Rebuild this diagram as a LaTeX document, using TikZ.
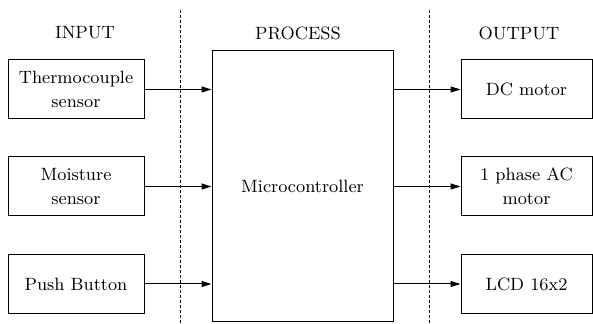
\documentclass[tikz,border=0pt]{standalone}
\usetikzlibrary{arrows.meta}
\begin{document}
\begin{tikzpicture}[x=0.5pt,y=-0.5pt,
  font=\fontsize{8.9}{12}\selectfont,
  blk/.style={draw,line width=0.5pt,inner sep=0pt,minimum width=#1,align=center},
  sidebox/.style={blk=68pt,minimum height=29.5pt},
  outbox/.style={blk=65.5pt,minimum height=29.5pt},
  sep/.style={line width=0.4pt,dash pattern=on 1.5pt off 1pt},
  conn/.style={line width=0.5pt,-{Triangle[length=5pt,width=3pt]}},
  title/.style={inner sep=0pt}]
\useasboundingbox (0,0) rectangle (593,324);
\node[title] (tin) at (85,33) {INPUT};
\node[title] (tpr) at (298,33) {PROCESS};
\node[title] (tout) at (519,33) {OUTPUT};
\coordinate (d1t) at (180,10); \coordinate (d1b) at (180,323);
\coordinate (d2t) at (429,10); \coordinate (d2b) at (429,323);
\draw[sep] (d1t) -- (d1b);
\draw[sep] (d2t) -- (d2b);
\node[sidebox] (th) at (76,89.5) {Thermocouple\\sensor};
\node[sidebox] (mo) at (76,186.5) {Moisture\\sensor};
\node[sidebox] (pb) at (76,284) {Push Button};
\node[blk=90.5pt,minimum height=135.5pt] (mc) at (302.5,186.5) {Microcontroller};
\node[outbox] (dc) at (526.5,89.5) {DC motor};
\node[outbox] (ac) at (526.5,186.5) {1 phase AC\\motor};
\node[outbox] (lcd) at (526.5,284) {LCD 16x2};
\draw[conn] (th.east) -- (th.east -| mc.west);
\draw[conn] (mo.east) -- (mo.east -| mc.west);
\draw[conn] (pb.east) -- (pb.east -| mc.west);
\draw[conn] (dc.west -| mc.east) -- (dc.west);
\draw[conn] (ac.west -| mc.east) -- (ac.west);
\draw[conn] (lcd.west -| mc.east) -- (lcd.west);
\end{tikzpicture}
\end{document}
